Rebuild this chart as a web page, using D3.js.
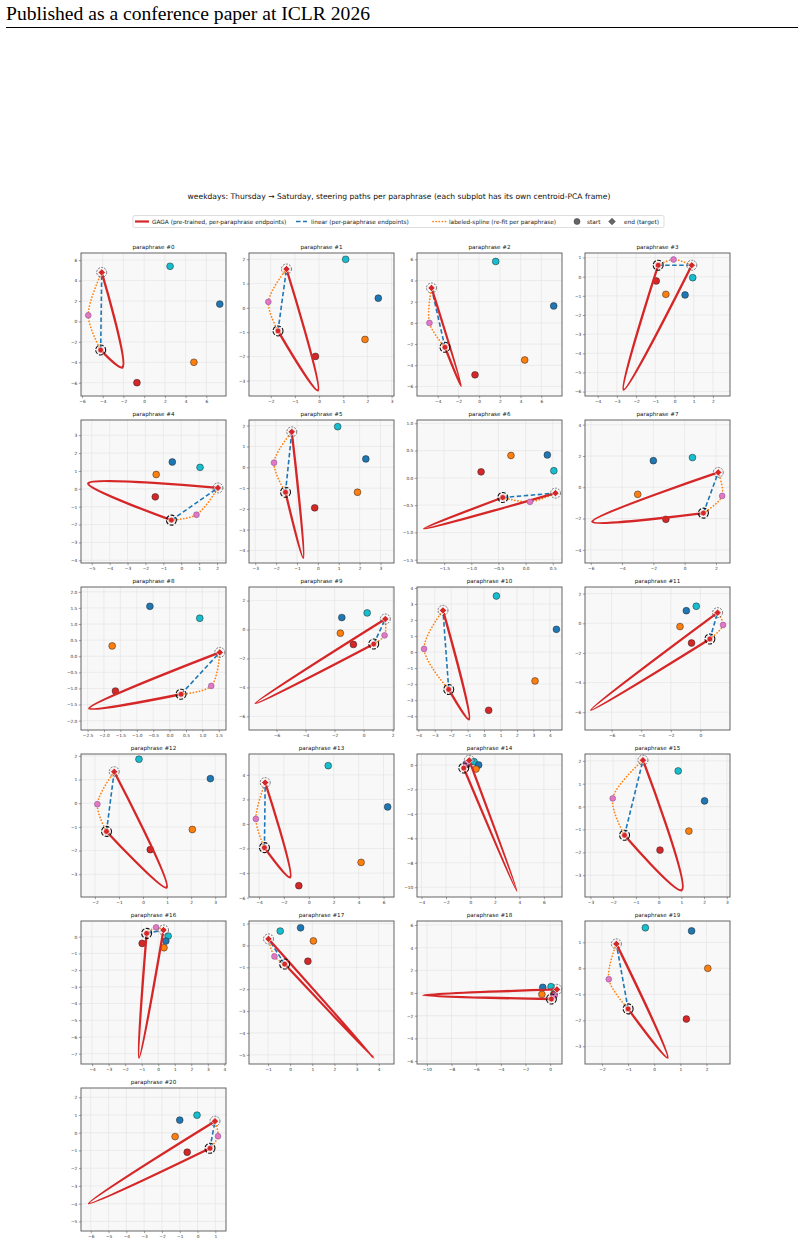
<!DOCTYPE html>
<html><head><meta charset="utf-8">
<script src="https://cdn.jsdelivr.net/npm/d3@7"></script>
<style>body{margin:0;background:#fff} text{font-family:"DejaVu Sans",sans-serif}</style>
</head><body><svg id="c" width="804" height="1244"></svg>
<script>
// ---------- data ----------
const titles = d3.range(21).map(i => "paraphrase #" + i);
const xDomains = [[-6.1,7.9],[-2.9,3.1],[-6.0,8.0],[-4.66,2.89],[-5.6,2.5],[-3.3,3.65],[-2.0,0.67],[-6.37,2.9],[-2.7,1.72],[-7.9,2.1],[-4.08,4.74],[-7.8,2.0],[-2.58,3.45],[-4.8,6.84],[-4.37,7.48],[-3.24,3.14],[-4.67,4.1],[-1.86,4.69],[-10.8,0.96],[-2.65,2.9],[-6.55,1.6]];
const yDomains = [[-7.3,6.7],[-3.63,2.26],[-6.9,6.6],[-6.23,1.24],[-4.15,3.85],[-4.6,2.27],[-1.56,1.06],[-4.84,4.3],[-2.29,2.15],[-6.94,2.94],[-4.86,4.06],[-7.2,2.45],[-3.96,2.08],[-5.95,5.7],[-10.8,0.9],[-3.95,2.3],[-7.62,0.94],[-5.42,1.12],[-6.26,6.35],[-3.68,1.82],[-5.54,2.52]];
const xTicks = [[-6,-4,-2,0,2,4,6],[-2,-1,0,1,2,3],[-4,-2,0,2,4,6],[-4,-3,-2,-1,0,1,2],[-5,-4,-3,-2,-1,0,1,2],[-3,-2,-1,0,1,2,3],[-1.5,-1,-0.5,0,0.5],[-6,-4,-2,0,2],[-2.5,-2,-1.5,-1,-0.5,0,0.5,1,1.5],[-6,-4,-2,0,2],[-4,-3,-2,-1,0,1,2,3,4],[-6,-4,-2,0],[-2,-1,0,1,2,3],[-4,-2,0,2,4,6],[-4,-2,0,2,4,6],[-3,-2,-1,0,1,2,3],[-4,-3,-2,-1,0,1,2,3,4],[-1,0,1,2,3,4],[-10,-8,-6,-4,-2,0],[-2,-1,0,1,2],[-6,-5,-4,-3,-2,-1,0,1]];
const yTicks = [[-6,-4,-2,0,2,4,6],[-3,-2,-1,0,1,2],[-6,-4,-2,0,2,4,6],[-6,-5,-4,-3,-2,-1,0,1],[-4,-3,-2,-1,0,1,2,3],[-4,-3,-2,-1,0,1,2],[-1.5,-1,-0.5,0,0.5,1],[-4,-2,0,2,4],[-2,-1.5,-1,-0.5,0,0.5,1,1.5,2],[-6,-4,-2,0,2],[-4,-3,-2,-1,0,1,2,3,4],[-6,-4,-2,0,2],[-3,-2,-1,0,1,2],[-6,-4,-2,0,2,4],[-10,-8,-6,-4,-2,0],[-3,-2,-1,0,1,2],[-7,-6,-5,-4,-3,-2,-1,0],[-5,-4,-3,-2,-1,0,1],[-6,-4,-2,0,2,4,6],[-3,-2,-1,0,1],[-5,-4,-3,-2,-1,0,1,2]];
const cyanPts = [[2.5,5.4],[1.1,2.0],[1.6,5.8],[0.95,-0.05],[1.05,1.2],[0.95,1.95],[0.52,0.13],[0.5,1.9],[0.92,1.18],[0.25,1.15],[0.75,3.5],[-0.28,1.15],[-0.17,1.86],[1.56,4.75],[0.3,0.27],[0.86,1.56],[0.6,0.04],[-0.45,0.66],[0.07,0.56],[-0.34,1.56],[-0.03,0.99]];
const bluePts = [[7.3,1.7],[2.45,0.4],[7.2,1.6],[0.55,-0.95],[-0.5,1.5],[2.3,0.4],[0.4,0.42],[-2,1.7],[-0.6,1.55],[-1.5,0.83],[4.4,1.42],[-0.95,0.85],[2.8,1.04],[6.33,1.39],[0.67,0.0],[2.02,0.25],[0.46,-0.26],[0.47,0.81],[-0.6,0.5],[1.43,1.44],[-1.0,0.71]];
const orangePts = [[4.8,-4.0],[1.9,-1.3],[4.4,-3.5],[-0.45,-0.92],[-1.4,0.8],[1.9,-1.2],[-0.27,0.41],[-3,-0.45],[-1.75,0.32],[-1.6,-0.25],[3.1,-1.8],[-1.38,-0.22],[2.05,-1.11],[4.2,-3.13],[0.45,-0.33],[1.33,-1.07],[0.35,-0.66],[1.05,0.21],[-0.67,-0.12],[2.05,0.0],[-1.26,-0.22]];
const redPts = [[-0.7,-6.0],[-0.15,-2.0],[-0.4,-4.9],[-0.95,-0.22],[-1.45,-0.45],[-0.15,-1.95],[-0.82,0.11],[-1.2,-2.05],[-1.65,-1.08],[-0.7,-1.03],[0.28,-3.63],[-0.6,-1.33],[0.3,-1.96],[-0.8,-5.03],[-0.3,0.05],[0.06,-1.9],[-0.97,-0.4],[0.8,-0.72],[0.3,-0.1],[1.23,-1.95],[-0.58,-1.1]];
const fridayPts = [[-5.4,0.6],[-2.1,0.25],[-4.8,0.0],[-0.05,0.9],[0.85,-1.45],[-2.1,0.22],[0.08,-0.44],[2.4,-0.55],[1.27,-0.92],[1.45,-0.4],[-3.65,0.2],[1.53,-0.11],[-1.9,-0.04],[-4.25,0.41],[-0.37,0.14],[-2.02,0.36],[-0.13,0.56],[-0.71,-0.5],[0.37,-0.2],[-1.74,-0.42],[1.15,-0.2]];
const startPts = [[-4.2,-2.8],[-1.7,-0.95],[-3.3,-2.3],[-0.85,0.6],[-0.55,-1.75],[-1.55,-1.2],[-0.42,-0.36],[1.2,-1.65],[0.35,-1.18],[0.7,-1.0],[-2.15,-2.33],[0.64,-1.06],[-1.52,-1.19],[-3.56,-1.93],[-0.55,-0.25],[-1.5,-1.25],[-0.7,0.2],[-0.25,-0.85],[0.1,-0.53],[-1.0,-1.56],[0.7,-0.88]];
const endPts = [[-4.1,4.8],[-1.35,1.6],[-4.6,3.3],[0.9,0.6],[2.05,0.05],[-1.25,1.7],[0.55,-0.28],[2.15,0.95],[1.53,0.12],[1.5,0.73],[-2.5,2.6],[1.16,0.72],[-1.2,1.33],[-3.5,3.37],[-0.1,0.38],[-0.69,2.03],[0.32,0.4],[-0.98,0.3],[0.55,0.32],[-1.45,0.94],[0.98,0.65]];
const gagaTips = [[-2.1,-4.5],[-0.05,-3.4],[-1.75,-5.95],[-2.65,-5.9],[-5.2,0.3],[-0.7,-4.35],[-1.87,-0.93],[-5.9,-2.2],[-2.45,-1.62],[-7.45,-5.1],[-0.92,-4.2],[-7.4,-5.85],[0.98,-3.56],[-1.5,-4.35],[3.78,-10.3],[1.02,-3.65],[-1.16,-7.25],[3.77,-5.14],[-10.3,-0.2],[0.51,-3.44],[-6.1,-3.98]];
const legendLabels = ["GAGA (pre-trained, per-paraphrase endpoints)","linear (per-paraphrase endpoints)","labeled-spline (re-fit per paraphrase)","start","end (target)"];

// ---------- colours ----------
const C = {red:"#d62728", blue:"#1f77b4", orange:"#ff7f0e", cyan:"#17becf", pink:"#e377c2"};

const svg = d3.select("#c");
svg.append("rect").attr("width",804).attr("height",1244).attr("fill","#fff");

// page header
svg.append("text").attr("x",6).attr("y",20).style("font-family","'Liberation Serif',serif").style("font-size","19.6px").text("Published as a conference paper at ICLR 2026");
svg.append("line").attr("x1",6).attr("x2",798).attr("y1",27.5).attr("y2",27.5).attr("stroke","#000").attr("stroke-width",1.1);

// figure title
svg.append("text").attr("x",399).attr("y",199).attr("text-anchor","middle").style("font-size","7.6px").attr("fill","#111")
  .text("weekdays: Thursday \u2192 Saturday, steering paths per paraphrase (each subplot has its own centroid-PCA frame)");

// legend
const lg = svg.append("g");
lg.append("rect").attr("x",133).attr("y",215.5).attr("width",531).attr("height",12).attr("rx",1.5).attr("fill","#fff").attr("stroke","#d0d0d0").attr("stroke-width",0.7);
const ly = 221.5;
lg.append("line").attr("x1",135).attr("x2",149).attr("y1",ly).attr("y2",ly).attr("stroke",C.red).attr("stroke-width",2.2);
lg.append("line").attr("x1",296).attr("x2",307).attr("y1",ly).attr("y2",ly).attr("stroke",C.blue).attr("stroke-width",1.6).attr("stroke-dasharray","4.5,2.5");
lg.append("line").attr("x1",433).attr("x2",446).attr("y1",ly).attr("y2",ly).attr("stroke",C.orange).attr("stroke-width",1.7).attr("stroke-dasharray","0.1,3").attr("stroke-linecap","round");
lg.append("circle").attr("cx",577).attr("cy",ly).attr("r",3).attr("fill","#666").attr("stroke","#333").attr("stroke-width",0.5);
lg.append("path").attr("d",d3.symbol(d3.symbolSquare,22)()).attr("transform",`translate(612,${ly}) rotate(45)`).attr("fill","#666").attr("stroke","#333").attr("stroke-width",0.5);
const lx = [152,311,449,587,624];
legendLabels.forEach((t,k)=>lg.append("text").attr("x",lx[k]).attr("y",ly+2).style("font-size","5.8px").attr("fill","#222").text(t));

// subplots
const W = 145, H = 143;
const fmtFor = ticks => ticks.some(v => Math.round(v) !== v) ? d3.format(".1f") : d3.format("d");

for (let i = 0; i < 21; i++) {
  const col = i % 4, row = Math.floor(i / 4);
  const L = 81 + col * 168, T = 253 + row * 167;
  const x = d3.scaleLinear().domain(xDomains[i]).range([L, L + W]);
  const y = d3.scaleLinear().domain(yDomains[i]).range([T + H, T]);
  const g = svg.append("g");
  const cid = "clip" + i;
  g.append("clipPath").attr("id", cid).append("rect").attr("x",L).attr("y",T).attr("width",W).attr("height",H);
  g.append("rect").attr("x",L).attr("y",T).attr("width",W).attr("height",H).attr("fill","#f8f8f8");
  // grid
  g.append("g").selectAll("line").data(xTicks[i]).join("line")
    .attr("x1",d=>x(d)).attr("x2",d=>x(d)).attr("y1",T).attr("y2",T+H).attr("stroke","#e2e2e2").attr("stroke-width",0.6);
  g.append("g").selectAll("line").data(yTicks[i]).join("line")
    .attr("y1",d=>y(d)).attr("y2",d=>y(d)).attr("x1",L).attr("x2",L+W).attr("stroke","#e2e2e2").attr("stroke-width",0.6);
  // axes
  const ax = g.append("g").attr("transform",`translate(0,${T+H})`)
    .call(d3.axisBottom(x).tickValues(xTicks[i]).tickSize(2.2).tickPadding(1.5).tickFormat(fmtFor(xTicks[i])));
  const ay = g.append("g").attr("transform",`translate(${L},0)`)
    .call(d3.axisLeft(y).tickValues(yTicks[i]).tickSize(2.2).tickPadding(1.5).tickFormat(fmtFor(yTicks[i])));
  [ax, ay].forEach(a => {
    a.select(".domain").remove();
    a.selectAll(".tick line").attr("stroke","#444").attr("stroke-width",0.5);
    a.selectAll(".tick text").style("font-size","4.3px").attr("fill","#333");
  });
  const content = g.append("g").attr("clip-path",`url(#${cid})`);
  // other weekday points
  const others = [[cyanPts[i],C.cyan],[bluePts[i],C.blue],[orangePts[i],C.orange],[redPts[i],C.red]];
  content.append("g").selectAll("circle").data(others).join("circle")
    .attr("cx",d=>x(d[0][0])).attr("cy",d=>y(d[0][1])).attr("r",3.4)
    .attr("fill",d=>d[1]).attr("stroke","#222").attr("stroke-width",0.5);
  const S = startPts[i], E = endPts[i], P = fridayPts[i], Tp = gagaTips[i];
  const line = d3.line().x(d=>x(d[0])).y(d=>y(d[1]));
  // labeled spline
  content.append("path").attr("d", line.curve(d3.curveCatmullRom.alpha(0.5))([S,P,E]))
    .attr("fill","none").attr("stroke",C.orange).attr("stroke-width",1.7).attr("stroke-dasharray","0.1,3").attr("stroke-linecap","round");
  // linear
  content.append("path").attr("d", line.curve(d3.curveLinear)([S,E]))
    .attr("fill","none").attr("stroke",C.blue).attr("stroke-width",1.6).attr("stroke-dasharray","4.5,2.5");
  // GAGA
  content.append("path").attr("d", line.curve(d3.curveCatmullRom.alpha(0.5))([S,Tp,E]))
    .attr("fill","none").attr("stroke",C.red).attr("stroke-width",2.3).attr("stroke-linejoin","round");
  // friday point
  content.append("circle").attr("cx",x(P[0])).attr("cy",y(P[1])).attr("r",2.9).attr("fill",C.pink).attr("stroke","#8a5a9a").attr("stroke-width",0.6);
  // start marker
  content.append("circle").attr("cx",x(S[0])).attr("cy",y(S[1])).attr("r",5).attr("fill","none").attr("stroke","#111").attr("stroke-width",1.1).attr("stroke-dasharray","4,1.5");
  content.append("circle").attr("cx",x(S[0])).attr("cy",y(S[1])).attr("r",2.9).attr("fill",C.red).attr("stroke","#fff").attr("stroke-width",0.6);
  // end marker
  content.append("circle").attr("cx",x(E[0])).attr("cy",y(E[1])).attr("r",5).attr("fill","none").attr("stroke","#555").attr("stroke-width",0.8).attr("stroke-dasharray","2,1.2");
  content.append("path").attr("d",d3.symbol(d3.symbolSquare,26)()).attr("transform",`translate(${x(E[0])},${y(E[1])}) rotate(45)`)
    .attr("fill",C.red).attr("stroke","#fff").attr("stroke-width",0.6);
  // frame
  g.append("rect").attr("x",L).attr("y",T).attr("width",W).attr("height",H).attr("fill","none").attr("stroke","#555").attr("stroke-width",0.9);
  // title
  g.append("text").attr("x",L+W/2).attr("y",T-4).attr("text-anchor","middle").style("font-size","5.6px").attr("fill","#111").text(titles[i]);
}
</script></body></html>
